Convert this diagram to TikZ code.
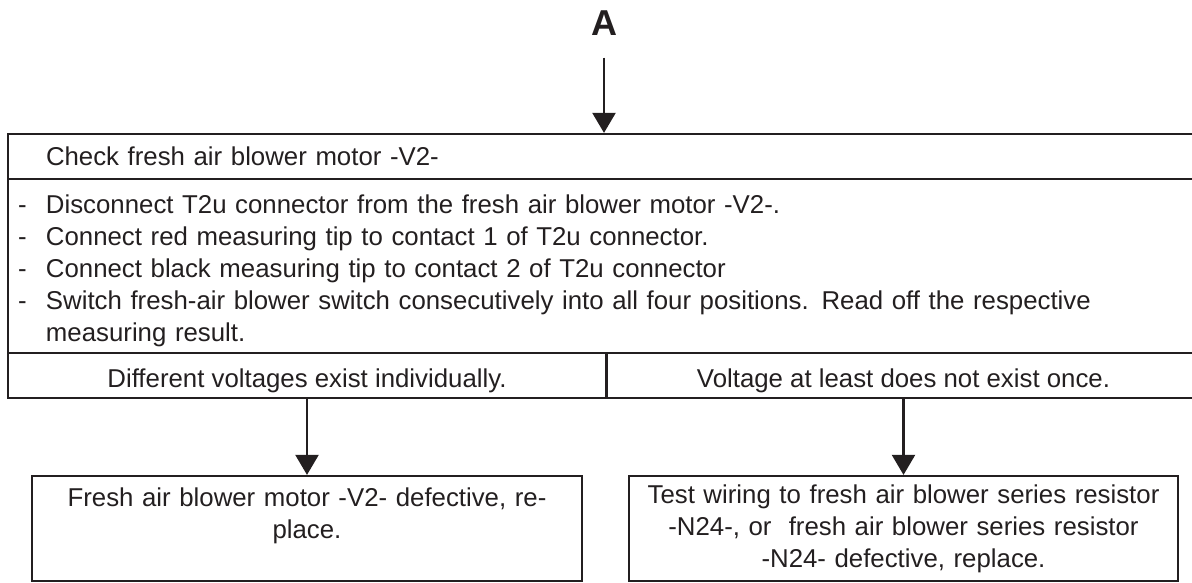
\documentclass[tikz,border=0pt]{standalone}
\usepackage{fontspec}
\setmainfont{Liberation Sans}
\usetikzlibrary{arrows.meta}
\definecolor{ink}{HTML}{231F20}

\begin{document}
\begin{tikzpicture}[x=1pt, y=-1pt, color=ink,
    cell/.style={draw=ink, line width=2.2pt, inner sep=0pt, text=ink, font=\fontsize{25.8}{32}\selectfont},
    arr/.style={-{Triangle[length=20pt,width=23pt]}, line width=2.2pt, draw=ink}]
  \clip (0,0) rectangle (1192,583);
  \node[font=\bfseries\fontsize{36}{36}\selectfont, inner sep=0pt, text=ink] (A) at (604,23) {A};
  \node[cell, minimum width=1192pt, minimum height=45pt, text width=1116pt, align=left] (head) at (604,156.5) {Check fresh air blower motor -V2-};
  \node[cell, minimum width=1192pt, minimum height=174pt, text width=1172pt, align=left] (steps) at (604,266) {%
    \rule{0pt}{27.4pt}\makebox[28pt][l]{-}Disconnect T2u connector from the fresh air blower motor -V2-.\\
    \makebox[28pt][l]{-}Connect red measuring tip to contact 1 of T2u connector.\\
    \makebox[28pt][l]{-}Connect black measuring tip to contact 2 of T2u connector\\
    \makebox[28pt][l]{-}Switch fresh-air blower switch consecutively into all four positions. Read off the respective\\
    \hspace*{28pt}measuring result.};
  \node[cell, minimum width=598pt, minimum height=45pt, text height=28.4pt, text depth=5.4pt] (resL) at (307,375.5) {Different voltages exist individually.};
  \node[cell, minimum width=594pt, minimum height=45pt, text height=28.4pt, text depth=5.4pt] (resR) at (903.5,375.5) {Voltage at least does not exist once.};
  \node[cell, minimum width=550pt, minimum height=105pt, text width=540pt, align=center] (fixL) at (307,528.5) {Fresh air blower motor -V2- defective, re-\\place.\rule[-29.8pt]{0pt}{29.8pt}};
  \node[cell, minimum width=549pt, minimum height=105pt, text width=540pt, align=center] (fixR) at (903.5,528.5) {Test wiring to fresh air blower series resistor\\-N24-, or~ fresh air blower series resistor\\-N24- defective, replace.};
  \draw[arr, shorten <=22pt] (A) -- (head);
  \draw[arr] (resL) -- (fixL);
  \draw[arr] (resR) -- (fixR);
\end{tikzpicture}
\end{document}
